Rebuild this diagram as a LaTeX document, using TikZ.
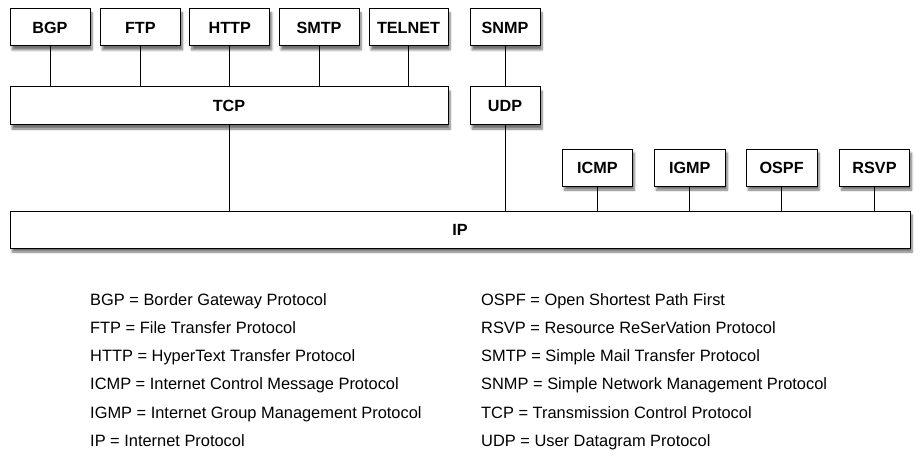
\documentclass[tikz,border=0pt]{standalone}
\usepackage{fontspec}
\setmainfont{Liberation Sans}
\usepackage{tikz}
\usetikzlibrary{positioning, shadows.blur}

\tikzset{
    proto/.style={draw, fill=white, line width=1pt, inner sep=0pt,
        minimum width=80pt, minimum height=37pt,
        font=\fontsize{16.2}{19}\selectfont\bfseries,
        blur shadow={shadow xshift=2pt, shadow yshift=-4pt, shadow blur steps=6, shadow opacity=55}},
    link/.style={line width=1pt},
    defn/.style={anchor=base west, inner sep=0pt, font=\fontsize{16.4}{19}\selectfont}
}

\begin{document}
\begin{tikzpicture}[x=1pt, y=-1pt]
    \useasboundingbox (0,0) rectangle (923,468);

    % application layer
    \node[proto] (bgp) at (50,27.5) {BGP};
    \node[proto] (ftp) at (140.3,27.5) {FTP};
    \node[proto] (http) at (229.7,27.5) {HTTP};
    \node[proto] (smtp) at (319,27.5) {SMTP};
    \node[proto, minimum width=79pt] (telnet) at (408.5,27.5) {TELNET};
    \node[proto, minimum width=70pt] (snmp) at (505,27.5) {SNMP};

    % transport layer
    \node[proto, minimum width=438pt, minimum height=38pt] (tcp) at (229,106) {TCP};
    \node[proto, minimum width=70pt, minimum height=38pt] (udp) at (505,106) {UDP};

    % network layer helpers
    \node[proto, minimum width=70pt] (icmp) at (597.3,167.5) {ICMP};
    \node[proto, minimum width=71pt] (igmp) at (689.8,167.5) {IGMP};
    \node[proto, minimum width=71pt] (ospf) at (781.6,167.5) {OSPF};
    \node[proto, minimum width=70pt] (rsvp) at (874.5,167.5) {RSVP};

    \node[proto, minimum width=900pt] (ip) at (460,229.5) {IP};

    % connections
    \foreach \p in {bgp, ftp, http, smtp, telnet}
        \draw[link] (\p.south) -- (\p.south |- tcp.north);
    \draw[link] (snmp) -- (udp);
    \draw[link] (http.south |- tcp.south) -- (http.south |- ip.north);
    \draw[link] (udp) -- (udp |- ip.north);
    \foreach \p in {icmp, igmp, ospf, rsvp}
        \draw[link] (\p.south) -- (\p.south |- ip.north);

    % legend
    \foreach \txt [count=\i] in {BGP = Border Gateway Protocol, FTP = File Transfer Protocol,
        HTTP = HyperText Transfer Protocol, ICMP = Internet Control Message Protocol,
        IGMP = Internet Group Management Protocol, IP = Internet Protocol}
        \node[defn] (leftdef\i) at (90,{305+28.27*(\i-1)}) {\txt};
    \foreach \txt [count=\i] in {OSPF = Open Shortest Path First, RSVP = Resource ReSerVation Protocol,
        SMTP = Simple Mail Transfer Protocol, SNMP = Simple Network Management Protocol,
        TCP = Transmission Control Protocol, UDP = User Datagram Protocol}
        \node[defn] (rightdef\i) at (481,{305+28.27*(\i-1)}) {\txt};
\end{tikzpicture}
\end{document}
